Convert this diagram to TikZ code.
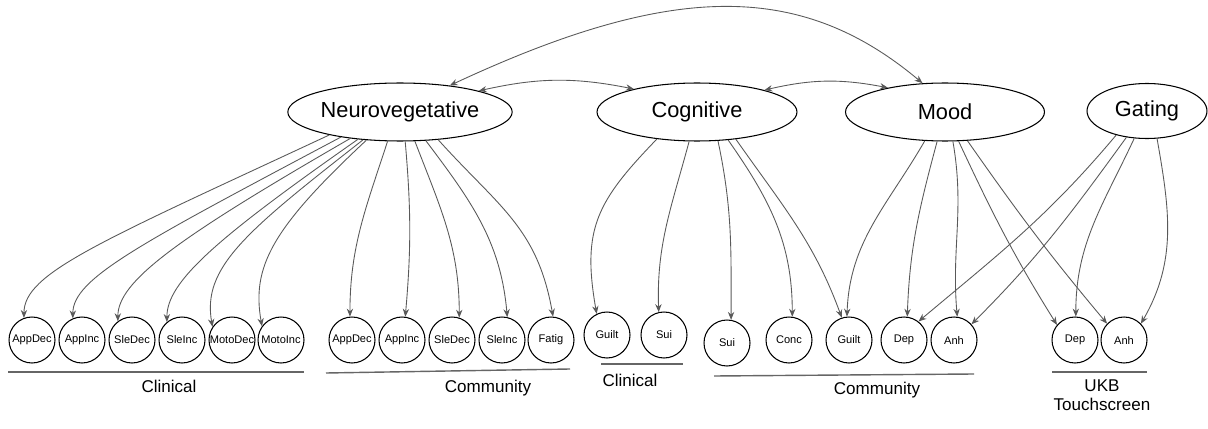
\documentclass[tikz,border=0pt]{standalone}
\usepackage{fontspec}
\setmainfont{Liberation Sans}
\usetikzlibrary{arrows.meta,shapes.geometric}

\begin{document}
\begin{tikzpicture}[x=0.02cm,y=0.02cm,
  >={Stealth[length=4.5pt,width=3.6pt]},
  latent/.style={draw,ellipse,line width=0.6pt,inner sep=0pt,minimum height=1.16cm,font=\fontsize{12.4}{14}\selectfont},
  obs/.style={draw,circle,line width=0.6pt,inner sep=0pt,minimum size=0.92cm,font=\fontsize{6.3}{7}\selectfont},
  load/.style={draw=black!65,line width=0.5pt,->},
  cov/.style={draw=black!65,line width=0.5pt,<->},
  rule/.style={draw=black!60,line width=0.8pt},
  grp/.style={font=\fontsize{9.7}{10.8}\selectfont,align=center}]
\useasboundingbox (0,0) rectangle (1208,-429);

\node[latent,minimum width=4.4cm] (nv) at (400,-112) {Neurovegetative};
\node[latent,minimum width=4.0cm] (cog) at (697,-112) {Cognitive};
\node[latent,minimum width=3.98cm] (mood) at (945,-112) {Mood};
\node[latent,minimum width=2.4cm,minimum height=1.1cm] (gat) at (1147,-111) {Gating};

\node[obs] (cAppDec) at (32,-340) {AppDec};
\node[obs] (cAppInc) at (82,-340) {AppInc};
\node[obs] (cSleDec) at (132,-340) {SleDec};
\node[obs] (cSleInc) at (182,-340) {SleInc};
\node[obs] (cMotoDec) at (232,-340) {MotoDec};
\node[obs] (cMotoInc) at (281,-340) {MotoInc};

\node[obs] (mAppDec) at (352,-340) {AppDec};
\node[obs] (mAppInc) at (402,-340) {AppInc};
\node[obs] (mSleDec) at (452,-340) {SleDec};
\node[obs] (mSleInc) at (502,-340) {SleInc};
\node[obs] (mFatig) at (551,-340) {Fatig};

\node[obs] (cGuilt) at (607,-335) {Guilt};
\node[obs] (cSui) at (664,-335) {Sui};

\node[obs] (mSui) at (727,-343) {Sui};
\node[obs] (mConc) at (789,-340) {Conc};
\node[obs] (mGuilt) at (849,-340) {Guilt};
\node[obs] (mDep) at (904,-340) {Dep};
\node[obs] (mAnh) at (954,-340) {Anh};

\node[obs] (uDep) at (1075,-340) {Dep};
\node[obs] (uAnh) at (1124,-340) {Anh};

\draw[rule] (8,-372) -- (304,-372);
\draw[rule] (326,-373) -- (570,-369);
\draw[rule] (601,-364) -- (683,-364);
\draw[rule] (714,-376) -- (974,-374);
\draw[rule] (1052,-372) -- (1147,-372);

\node[grp] (lClin1) at (169,-386) {Clinical};
\node[grp] (lComm1) at (488,-388) {Community};
\node[grp] (lClin2) at (630,-380) {Clinical};
\node[grp] (lComm2) at (877,-390) {Community};
\node[grp] (lUkb) at (1102,-395) {UKB\\Touchscreen};

\draw[cov] (nv.28) .. controls +(25:246) and +(140:159) .. (mood.128);
\draw[cov] (nv.15) to[bend left=12] (cog.160);
\draw[cov] (cog.18) to[bend left=12] (mood.157);

\draw[load] (nv.198) .. controls +(205:254) and +(90:45) .. (cAppDec.110);
\draw[load] (nv.203) .. controls +(208:228) and +(90:40) .. (cAppInc.113);
\draw[load] (nv.208) .. controls +(210:200) and +(90:40) .. (cSleDec.127);
\draw[load] (nv.213) .. controls +(215:175) and +(90:40) .. (cSleInc.130);
\draw[load] (nv.217) .. controls +(218:150) and +(100:60) .. (cMotoDec.146);
\draw[load] (nv.220) .. controls +(223:130) and +(100:60) .. (cMotoInc.144);

\draw[load] (nv.247) to[out=252,in=90] (mAppDec.95);
\draw[load] (nv.280) to[out=275,in=85] (mAppInc.82);
\draw[load] (nv.297) to[out=291,in=90] (mSleDec.72);
\draw[load] (nv.312) to[out=307,in=95] (mSleInc.77);
\draw[load] (nv.324) to[out=312,in=100,looseness=1.1] (mFatig.85);

\draw[load] (cog.214) to[out=226,in=100,looseness=1.2] (cGuilt.116);
\draw[load] (cog.255) to[out=255,in=92] (cSui.103);
\draw[load] (cog.306) to[out=282,in=90] (mSui.80);
\draw[load] (cog.318) to[out=305,in=90] (mConc.82);
\draw[load] (cog.325) to[out=305,in=110] (mGuilt.108);

\draw[load] (mood.235) to[out=240,in=88] (mGuilt.95);
\draw[load] (mood.255) to[out=255,in=88] (mDep.82);
\draw[load] (mood.285) to[out=280,in=95] (mAnh.82);
\draw[load] (mood.295) to[out=295,in=122] (uDep.140);
\draw[load] (mood.308) to[out=305,in=130] (uAnh.136);

\draw[load] (gat.218) to[out=230,in=40] (mDep.52);
\draw[load] (gat.232) to[out=234,in=45] (mAnh.42);
\draw[load] (gat.245) to[out=245,in=90] (uDep.88);
\draw[load] (gat.290) to[out=280,in=60] (uAnh.44);
\end{tikzpicture}
\end{document}
